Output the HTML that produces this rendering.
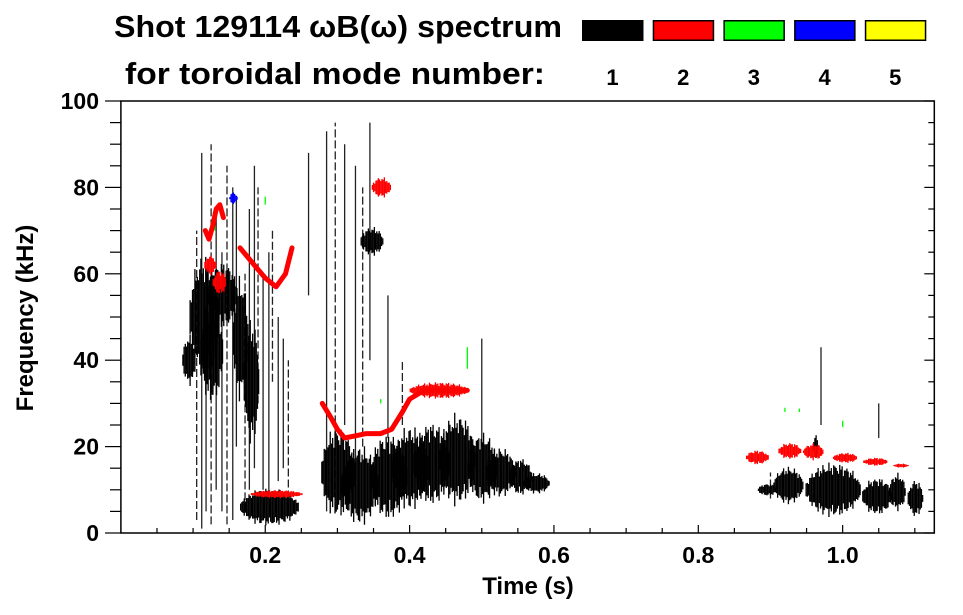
<!DOCTYPE html>
<html><head><meta charset="utf-8"><style>
html,body{margin:0;padding:0;background:#fff;}
svg{display:block;font-family:"Liberation Sans",Arial,sans-serif;font-weight:bold;}
</style></head><body>
<svg id="chart" width="963" height="615" viewBox="0 0 963 615" xmlns="http://www.w3.org/2000/svg">
<g>
<text x="114" y="37" font-size="31" textLength="448" lengthAdjust="spacingAndGlyphs">Shot 129114 ωB(ω) spectrum</text>
<text x="125" y="84" font-size="31" textLength="420" lengthAdjust="spacingAndGlyphs">for toroidal mode number:</text>
</g>
<g id="legend"></g>
<g id="marks"></g>
<g id="axes"></g>
<text x="528" y="594" font-size="24" text-anchor="middle">Time (s)</text>
<text transform="translate(33,318) rotate(-90)" font-size="24" text-anchor="middle">Frequency (kHz)</text>
</svg>
<script>
const modeNumbers = [1, 2, 3, 4, 5];
const modeColors = ["#000000", "#ff0000", "#00ff00", "#0000ff", "#ffff00"];
const xTickLabels = [0.2, 0.4, 0.6, 0.8, 1.0];
const yTickLabels = [0, 20, 40, 60, 80, 100];
// blobs: time center, freq center, time width, freq height, mode
const blobT = [0.094,0.115,0.125,0.14,0.165,0.18,0.205,0.3,0.33,0.37,0.4,0.43,0.465,0.5,0.525,0.553,0.575,0.347,0.895,0.924,0.986,1.047,1.075,1.1,0.962,
               0.36,0.44,0.136,0.123,0.881,0.926,0.959,1.003,1.045,1.08,0.215,0.155];
const blobF = [40,50,42,55,45,35,6,14,11,13,15,16,17,15,14,13,11.5,67.5,10,11,10,8.5,9.5,8,20,
               80,33,58,62,17.5,19,18.8,17.4,16.5,15.6,9,77.5];
const blobDT = [0.018,0.04,0.03,0.04,0.02,0.02,0.08,0.045,0.05,0.05,0.05,0.05,0.05,0.04,0.04,0.03,0.035,0.03,0.025,0.04,0.075,0.04,0.022,0.02,0.006,
               0.025,0.08,0.018,0.015,0.03,0.03,0.028,0.033,0.033,0.02,0.07,0.01];
const blobDF = [12,30,25,16,30,30,9,22,19,21,20,20,22,17,12,9,5,7,3,9,13,9,9,9,7,
               5,4,6,5,3.5,4,4,2.5,2,1,2,3];
const blobMode = [1,1,1,1,1,1,1,1,1,1,1,1,1,1,1,1,1,1,1,1,1,1,1,1,1,
               2,2,2,2,2,2,2,2,2,2,2,4];
// red (mode 2) frequency-sweeping curves
const curveAT = [0.117,0.122,0.127,0.132,0.137,0.142];
const curveAF = [70,68,71,75,76,73];
const curveBT = [0.165,0.175,0.185,0.2,0.215,0.228,0.237];
const curveBF = [66,64,62,59,57,60,66];
const curveCT = [0.279,0.29,0.3,0.31,0.325,0.34,0.36,0.375,0.39,0.4,0.42,0.45,0.48];
const curveCF = [30,27,24,22,22.5,23,23,24,28,31,33,33,33];
// streaks: time, low freq, high freq, mode
const streakT = [0.105,0.112,0.118,0.125,0.132,0.14,0.147,0.155,0.16,0.172,0.178,0.185,0.19,0.197,0.205,0.21,0.218,0.225,0.232,0.26,
                 0.285,0.297,0.31,0.325,0.335,0.345,0.37,0.39,0.5,0.97,0.9,1.05,0.13,0.2,0.36,0.48,0.92,1.0,0.94];
const streakLo = [3,1,5,2,10,5,2,3,20,5,10,15,30,10,8,35,12,15,8,55,
                 5,5,25,10,20,40,22,25,20,25,8,22,70,76,30,38,28,24.5,28];
const streakHi = [70,88,60,90,75,65,85,80,78,60,75,85,80,60,65,70,50,45,40,88,
                 93,95,90,85,80,95,55,40,45,43,14,30,72,78,31,43,29,26,28.8];
const streakMode = [1,1,1,1,1,1,1,1,1,1,1,1,1,1,1,1,1,1,1,1,
                 1,1,1,1,1,1,1,1,1,1,1,1,3,3,3,3,3,3,3];

const X0 = 120.9, XS = 721.75, XMAX = 1.127;
const Y0 = 533, YS = 4.32;
function xScale(t){ return X0 + t*XS; }
function yScale(f){ return Y0 - f*YS; }
const NS = "http://www.w3.org/2000/svg";
function mk(tag, attrs, parent){
  const e = document.createElementNS(NS, tag);
  for (const k in attrs) e.setAttribute(k, attrs[k]);
  parent.appendChild(e); return e;
}
const legend = document.getElementById('legend');
modeNumbers.forEach((m, i) => {
  const x = 582 + i*70.7;
  const r = mk('rect', {x:x+0.75, y:20.75, width:60, height:19.5, fill:modeColors[i], stroke:'#000', 'stroke-width':1.5}, legend);
  
  
  const t = mk('text', {x:x+30.5, y:85, 'font-size':22, 'text-anchor':'middle'}, legend);
  t.textContent = m;
  
  
});
const marks = document.getElementById('marks');
streakT.forEach((t, i) => {
  const l = mk('line', {x1:xScale(t), x2:xScale(t), y1:yScale(streakLo[i]), y2:yScale(streakHi[i]),
    stroke: streakMode[i]===1 ? '#222' : modeColors[streakMode[i]-1], 'stroke-width': 1.3, 'stroke-dasharray': (i%3===0)?'8 3':'none'}, marks);
  
  
});
blobT.forEach((t, i) => {
  const g = mk('g', {fill: modeColors[blobMode[i]-1]}, marks);
  
  
  const xa = xScale(t - blobDT[i]/2), xb = xScale(t + blobDT[i]/2);
  const yc = yScale(blobF[i]), hh = blobDF[i]*YS/2;
  const w = xb - xa;
  for (let x = xa; x < xb; x += 1.2) {
    const u = (x - xa)/w*2 - 1;
    const prof = Math.sqrt(Math.max(0, 1 - u*u));
    const jag = 0.75 + 0.25*Math.sin(x*1.7 + i) * Math.cos(x*0.63);
    const h = hh*Math.max(0.3, prof)*jag;
    mk('rect', {x:x, y:yc - h, width:1.3, height:2*h}, g);
  }
});
[[curveAT,curveAF],[curveBT,curveBF],[curveCT,curveCF]].forEach((c, k) => {
  const pts = c[0].map((t, j) => xScale(t).toFixed(1) + ',' + yScale(c[1][j]).toFixed(1)).join(' ');
  const p = mk('polyline', {points:pts, fill:'none', stroke:'#ff0000', 'stroke-width':5, 'stroke-linejoin':'round', 'stroke-linecap':'round'}, marks);
  
  
});
const axes = document.getElementById('axes');
const frame = mk('rect', {x:120.9, y:101, width:xScale(XMAX)-120.9, height:432, fill:'none', stroke:'#000', 'stroke-width':1.5}, axes);


for (let k = 1; k*0.05 < XMAX; k++) {
  const x = xScale(k*0.05), major = (k%4===0);
  mk('line', {x1:x, x2:x, y1:533, y2:533-(major?8:5), stroke:'#000', 'stroke-width':1.2}, axes);
}
xTickLabels.forEach(v => {
  const t = mk('text', {x:xScale(v), y:563, 'font-size':23, 'text-anchor':'middle'}, axes);
  t.textContent = v.toFixed(1);
  
  
});
for (let f = 0; f <= 100; f += 5) {
  const y = yScale(f), major = (f%20===0);
  mk('line', {x1:major?105:110, x2:120.9, y1:y, y2:y, stroke:'#000', 'stroke-width':1.2}, axes);
  mk('line', {x1:xScale(XMAX), x2:xScale(XMAX)-(major?10:6), y1:y, y2:y, stroke:'#000', 'stroke-width':1.2}, axes);
}
yTickLabels.forEach(v => {
  const t = mk('text', {x:99, y:yScale(v)+8, 'font-size':23, 'text-anchor':'end'}, axes);
  t.textContent = v;
  
  
});
</script>
</body></html>
